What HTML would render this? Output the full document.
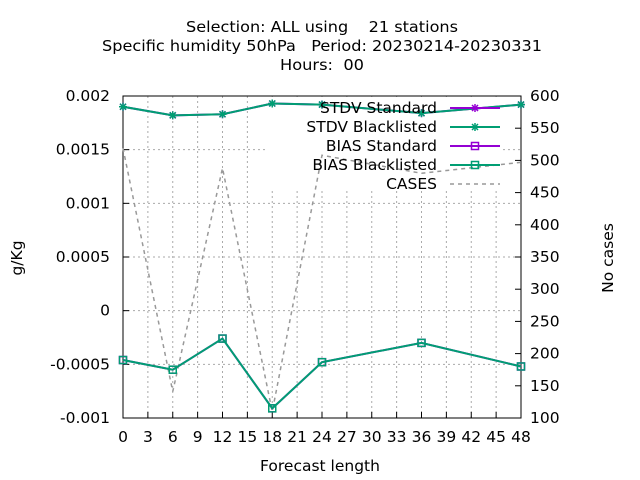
<!DOCTYPE html>
<html><head><meta charset="utf-8"><style>
body{margin:0;background:#fff}
svg{display:block;font-family:"DejaVu Sans","Liberation Sans",sans-serif;font-size:15.5px}
text{white-space:pre}
</style></head><body>
<svg id="chart" width="640" height="480">
<rect width="640" height="480" fill="#fff"/>
<g>
<text x="322" y="32" text-anchor="middle" textLength="272" lengthAdjust="spacingAndGlyphs" xml:space="preserve">Selection: ALL using    21 stations</text>
<text x="322" y="51" text-anchor="middle" textLength="440" lengthAdjust="spacingAndGlyphs" xml:space="preserve">Specific humidity 50hPa   Period: 20230214-20230331</text>
<text x="322" y="70" text-anchor="middle" textLength="84" lengthAdjust="spacingAndGlyphs" xml:space="preserve">Hours:  00</text>
</g>
<g id="grid"></g>
<rect x="266" y="97" width="234" height="92" fill="#fff"/>
<g id="axes"></g>
<g id="series"></g>
<g id="legend"></g>
<text x="0" y="0" transform="translate(22,258) rotate(-90)" text-anchor="middle">g/Kg</text>
<text x="0" y="0" transform="translate(613,258) rotate(-90)" text-anchor="middle">No cases</text>
<text x="320" y="471" text-anchor="middle">Forecast length</text>
</svg>
<script>
const xTicks=[0,3,6,9,12,15,18,21,24,27,30,33,36,39,42,45,48];
const yTicks=[0.002,0.0015,0.001,0.0005,0,-0.0005,-0.001];
const yTickLabels=["0.002","0.0015","0.001","0.0005","0","-0.0005","-0.001"];
const y2Ticks=[600,550,500,450,400,350,300,250,200,150,100];
const leads=[0,6,12,18,24,36,48];
const stdvStd=[0.0019,0.00182,0.00183,0.00193,0.00192,0.00184,0.00192];
const stdvBl=[0.0019,0.00182,0.00183,0.00193,0.00192,0.00184,0.00192];
const biasStd=[-0.00046,-0.00055,-0.00026,-0.00091,-0.00048,-0.0003,-0.00052];
const biasBl=[-0.00046,-0.00055,-0.00026,-0.00091,-0.00048,-0.0003,-0.00052];
const cases=[519,141,488,110,508,480,497];

const L=123,R=521,T=96,B=418;
const X=v=>L+(v-0)/(48-0)*(R-L);
const Y=v=>B-(v-(-0.001))/(0.003)*(B-T);
const Y2=v=>B-(v-100)/500*(B-T);
const NS="http://www.w3.org/2000/svg";
function mk(parent,tag,attrs){const e=document.createElementNS(NS,tag);for(const k in attrs)e.setAttribute(k,attrs[k]);document.getElementById(parent).appendChild(e);return e;}

xTicks.forEach((t,i)=>{
  if(i>0&&i<xTicks.length-1){const g=mk('grid','line',{x1:X(t),x2:X(t),y1:T,y2:B,stroke:'#aaa','stroke-dasharray':'2,3'});
  
  }
  const tk=mk('axes','line',{x1:X(t),x2:X(t),y1:B,y2:B-6,stroke:'#000'});
  
  
  const tl=mk('axes','text',{x:X(t),y:B+24,'text-anchor':'middle'});tl.textContent=t;
  
  
});
yTicks.forEach((t,i)=>{
  if(i>0&&i<yTicks.length-1){const g=mk('grid','line',{x1:L,x2:R,y1:Y(t),y2:Y(t),stroke:'#aaa','stroke-dasharray':'2,3'});
  
  }
  const tk=mk('axes','line',{x1:L,x2:L+6,y1:Y(t),y2:Y(t),stroke:'#000'});
  
  
  const tl=mk('axes','text',{x:L-13,y:Y(t)+5,'text-anchor':'end'});tl.textContent=yTickLabels[i];
  
  
});
y2Ticks.forEach(t=>{
  const tk=mk('axes','line',{x1:R,x2:R-6,y1:Y2(t),y2:Y2(t),stroke:'#000'});
  
  
  const tl=mk('axes','text',{x:R+9,y:Y2(t)+5,'text-anchor':'start'});tl.textContent=t;
  
  
});
const fr=mk('axes','rect',{x:L,y:T,width:R-L,height:B-T,fill:'none',stroke:'#000'});



function pts(arr,yf){return arr.map((v,i)=>X(leads[i])+','+yf(v)).join(' ');}
const cl=mk('series','polyline',{points:pts(cases,Y2),fill:'none',stroke:'#999','stroke-width':1.5,'stroke-dasharray':'4,4'});


function star(cx,cy,col,g){
  [[-4,0,4,0],[0,-4,0,4],[-3,-3,3,3],[-3,3,3,-3]].forEach(d=>mk(g,'line',{x1:cx+d[0],y1:cy+d[1],x2:cx+d[2],y2:cy+d[3],stroke:col,'stroke-width':1.5}));
}
function sq(cx,cy,col,g){mk(g,'rect',{x:cx-3.5,y:cy-3.5,width:7,height:7,fill:'none',stroke:col,'stroke-width':1.5});}
function series(arr,col,mark,name){
  const p=mk('series','polyline',{points:pts(arr,Y),fill:'none',stroke:col,'stroke-width':2});
  
  
  arr.forEach((v,i)=>mark(X(leads[i]),Y(v),col,'series'));
}
series(stdvStd,'#9400d3',star,'stdv-standard-line');
series(biasStd,'#9400d3',sq,'bias-standard-line');
series(stdvBl,'#009e73',star,'stdv-blacklisted-line');
series(biasBl,'#009e73',sq,'bias-blacklisted-line');

const leg=[["STDV Standard",'#9400d3',star,false],["STDV Blacklisted",'#009e73',star,false],["BIAS Standard",'#9400d3',sq,false],["BIAS Blacklisted",'#009e73',sq,false],["CASES",'#999',null,true]];
leg.forEach((e,i)=>{
  const y=108+i*19;
  const t=mk('legend','text',{x:437,y:y+5,'text-anchor':'end'});t.textContent=e[0];
  
  
  const ln=mk('legend','line',{x1:450,x2:500,y1:y,y2:y,stroke:e[1],'stroke-width':e[3]?1.5:2,'stroke-dasharray':e[3]?'4,4':'none'});
  
  
  if(e[2])e[2](475,y,e[1],'legend');
});
</script>
</body></html>
